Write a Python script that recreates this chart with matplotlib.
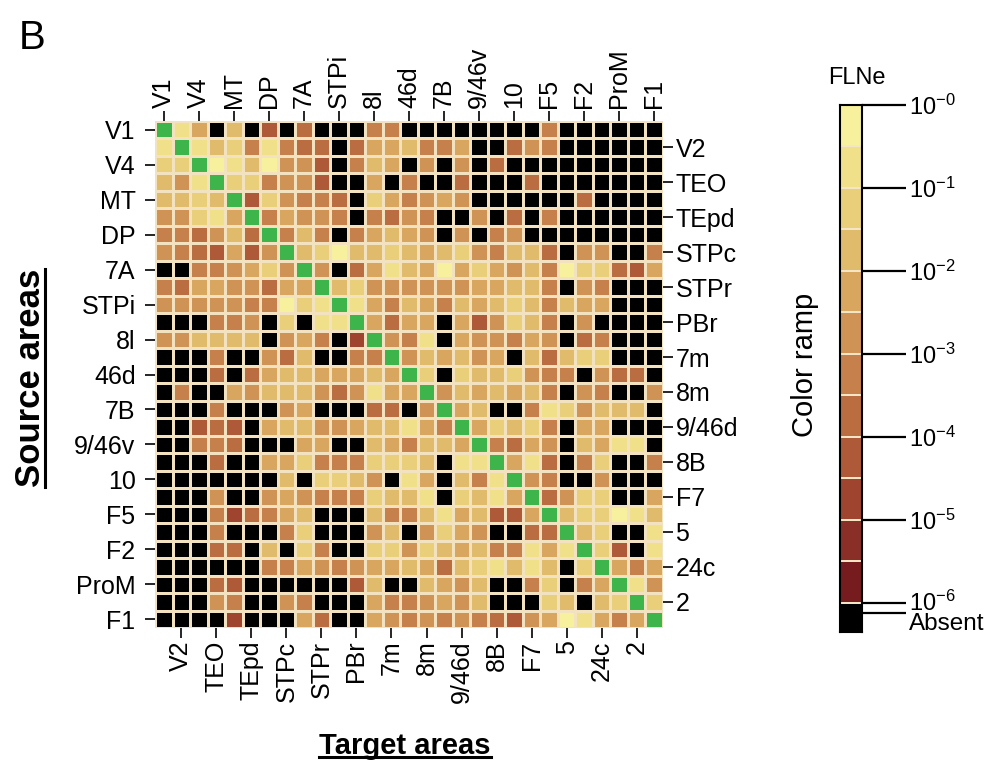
import numpy as np
import matplotlib.pyplot as plt
from matplotlib.colors import ListedColormap, BoundaryNorm
from matplotlib.lines import Line2D

plt.rcParams['font.family'] = ['Liberation Sans', 'DejaVu Sans']
plt.rcParams['mathtext.fontset'] = 'custom'
plt.rcParams['mathtext.rm'] = 'Liberation Sans'
plt.rcParams['mathtext.it'] = 'Liberation Sans:italic'
plt.rcParams['mathtext.bf'] = 'Liberation Sans:bold'

# area order (targets = columns, sources = rows)
areas = ['V1', 'V2', 'V4', 'TEO', 'MT', 'TEpd', 'DP', 'STPc', '7A', 'STPr',
         'STPi', 'PBr', '8l', '7m', '46d', '8m', '7B', '9/46d', '9/46v', '8B',
         '10', 'F7', 'F5', '5', 'F2', '24c', 'ProM', '2', 'F1']

# FLNe bin: 1 = 10^0..10^-0.5 ... 12 = 10^-5.5..10^-6,
# 0 = absent, -1 = injected area (diagonal)
D = -1
flne_bin = [
    [D, 2, 5, 0, 4, 0, 9, 0, 8, 0, 0, 0, 7, 7, 0, 0, 0, 0, 0, 0, 0, 0, 7, 0, 0, 0, 0, 0, 0],
    [2, D, 2, 4, 3, 7, 2, 7, 8, 8, 0, 8, 5, 5, 4, 7, 7, 5, 0, 0, 8, 6, 7, 0, 0, 0, 0, 0, 0],
    [3, 3, D, 1, 2, 4, 1, 6, 6, 9, 0, 7, 4, 5, 0, 6, 0, 6, 0, 8, 0, 0, 0, 0, 0, 0, 0, 0, 0],
    [4, 6, 2, D, 3, 3, 7, 6, 6, 9, 0, 0, 5, 0, 7, 0, 0, 8, 0, 0, 0, 8, 0, 0, 0, 0, 0, 0, 0],
    [4, 4, 3, 4, D, 9, 3, 6, 7, 7, 8, 0, 3, 5, 7, 6, 5, 6, 0, 0, 0, 0, 0, 0, 8, 0, 0, 0, 0],
    [6, 6, 3, 2, 5, D, 7, 5, 6, 6, 7, 0, 7, 8, 6, 7, 0, 0, 6, 0, 8, 0, 7, 0, 0, 0, 0, 0, 0],
    [7, 7, 8, 6, 4, 8, D, 7, 4, 7, 0, 7, 5, 4, 5, 6, 0, 6, 0, 7, 6, 0, 0, 0, 0, 0, 0, 0, 0],
    [6, 7, 8, 9, 5, 9, 6, D, 4, 3, 1, 4, 4, 3, 4, 5, 4, 3, 6, 7, 4, 4, 8, 0, 6, 6, 0, 0, 7],
    [0, 0, 7, 7, 6, 5, 3, 6, D, 6, 0, 8, 5, 2, 4, 5, 1, 5, 3, 5, 6, 4, 7, 1, 3, 3, 8, 9, 5],
    [7, 8, 5, 5, 6, 6, 8, 5, 5, D, 4, 3, 6, 6, 6, 6, 6, 6, 5, 5, 4, 4, 7, 0, 6, 7, 0, 0, 0],
    [6, 6, 6, 6, 6, 7, 7, 1, 3, 2, D, 2, 5, 7, 4, 5, 7, 4, 5, 4, 3, 4, 7, 4, 5, 5, 0, 0, 0],
    [0, 0, 0, 7, 7, 6, 0, 3, 0, 2, 2, D, 5, 8, 5, 5, 0, 5, 9, 6, 3, 4, 7, 0, 6, 0, 0, 0, 0],
    [6, 6, 4, 4, 4, 4, 0, 6, 5, 7, 0, 10, D, 6, 7, 2, 0, 5, 6, 6, 7, 5, 6, 0, 8, 7, 0, 0, 0],
    [0, 0, 0, 7, 0, 0, 6, 8, 4, 0, 0, 7, 7, D, 6, 4, 5, 4, 6, 5, 0, 4, 8, 4, 3, 3, 0, 0, 0],
    [0, 0, 0, 8, 0, 8, 5, 4, 4, 5, 5, 5, 4, 5, D, 3, 0, 3, 4, 4, 3, 6, 7, 7, 0, 6, 8, 8, 0],
    [0, 7, 0, 0, 5, 6, 4, 4, 4, 6, 8, 6, 2, 5, 5, D, 6, 4, 5, 4, 5, 4, 7, 0, 6, 7, 0, 0, 6],
    [0, 0, 0, 7, 0, 0, 0, 6, 5, 0, 0, 0, 8, 8, 0, 6, D, 5, 4, 0, 0, 7, 2, 3, 6, 4, 4, 4, 0],
    [0, 0, 9, 8, 9, 0, 5, 4, 4, 6, 6, 5, 4, 4, 2, 5, 7, D, 5, 3, 4, 3, 7, 0, 5, 5, 0, 0, 0],
    [0, 0, 7, 7, 8, 0, 0, 0, 5, 5, 0, 0, 4, 5, 7, 4, 4, 5, D, 7, 8, 5, 6, 0, 4, 5, 2, 2, 0],
    [0, 0, 0, 8, 0, 0, 5, 5, 3, 7, 7, 7, 3, 3, 3, 4, 0, 2, 2, D, 5, 2, 8, 0, 7, 3, 0, 0, 7],
    [0, 0, 0, 0, 0, 0, 0, 4, 0, 3, 3, 4, 6, 0, 2, 5, 0, 4, 7, 2, D, 6, 7, 0, 0, 6, 0, 0, 0],
    [0, 0, 0, 6, 0, 0, 6, 5, 6, 7, 7, 7, 3, 4, 4, 2, 0, 3, 4, 2, 5, D, 8, 6, 3, 3, 0, 0, 5],
    [0, 0, 0, 7, 10, 8, 7, 5, 4, 0, 0, 0, 4, 7, 7, 4, 2, 5, 4, 9, 9, 5, D, 4, 3, 3, 1, 2, 4],
    [0, 0, 0, 7, 0, 0, 0, 7, 3, 0, 0, 0, 6, 4, 0, 6, 3, 5, 6, 0, 0, 8, 8, D, 4, 3, 0, 0, 2],
    [0, 0, 0, 8, 8, 0, 4, 0, 3, 7, 0, 0, 3, 3, 6, 3, 4, 5, 4, 7, 7, 2, 5, 2, D, 3, 9, 0, 2],
    [0, 0, 0, 0, 0, 0, 7, 7, 5, 6, 7, 6, 5, 5, 4, 5, 8, 4, 3, 2, 4, 2, 4, 0, 3, D, 5, 7, 5],
    [0, 0, 0, 8, 9, 0, 0, 0, 0, 0, 0, 9, 4, 0, 0, 4, 5, 6, 4, 0, 0, 7, 3, 0, 7, 5, D, 2, 6],
    [0, 0, 0, 6, 7, 0, 0, 6, 7, 0, 0, 0, 5, 7, 7, 6, 5, 6, 4, 0, 0, 0, 3, 4, 0, 4, 3, D, 3],
    [0, 0, 0, 0, 10, 0, 0, 0, 5, 8, 0, 0, 5, 6, 7, 6, 7, 6, 7, 8, 9, 6, 5, 1, 2, 5, 7, 5, D],
]

ramp = ['#f7f19e', '#f0e08a', '#e9cf79', '#e0bb6b', '#d8a65f', '#cf9355',
        '#c6804c', '#bb6d42', '#ae5a38', '#9e442f', '#8a2f28', '#761c1f']
cbar_labels = ['$10^{-0}$', '$10^{-1}$', '$10^{-2}$', '$10^{-3}$',
               '$10^{-4}$', '$10^{-5}$', '$10^{-6}$', 'Absent']

M = np.array(flne_bin, dtype=float)
n = len(areas)

cmap = ListedColormap(['black'] + ramp)
cmap.set_under('#3db54a')
norm = BoundaryNorm(np.arange(-0.5, 13.5, 1), cmap.N)

fig = plt.figure(figsize=(9.96, 7.71), dpi=100)
ax = fig.add_axes([155 / 996, 1 - 628 / 771, 508 / 996, 507 / 771])
ax.pcolormesh(np.arange(n + 1), np.arange(n + 1), M, cmap=cmap, norm=norm,
              edgecolors='#f3e2c0', linewidth=0.9)
ax.set_xlim(0, n)
ax.set_ylim(n, 0)
for s in ax.spines.values():
    s.set_visible(False)

even = np.arange(0, n, 2)
odd = np.arange(1, n, 2)
fs = 18
tick_kw = dict(length=7, width=1.2, color='black', labelsize=fs, pad=2)

ax.set_xticks(odd + 0.5)
ax.set_xticklabels([areas[i] for i in odd], rotation=90)
ax.set_yticks(even + 0.5)
ax.set_yticklabels([areas[i] for i in even])
ax.tick_params(**tick_kw)
ax.tick_params(axis='y', pad=7)

top = ax.secondary_xaxis('top')
top.set_xticks(even + 0.5)
top.set_xticklabels([areas[i] for i in even], rotation=90)
top.tick_params(**tick_kw)
top.spines['top'].set_visible(False)

right = ax.secondary_yaxis('right')
right.set_yticks(odd + 0.5)
right.set_yticklabels([areas[i] for i in odd])
right.tick_params(**tick_kw)
right.spines['right'].set_visible(False)

# colour ramp: 12 bins of half a decade, then a shorter "absent" block
cax = fig.add_axes([840 / 996, 1 - 632 / 771, 22 / 996, 527 / 771])
bar = np.array(list(range(1, 13)) + [0], dtype=float).reshape(-1, 1)
cax.pcolormesh([0, 1], list(range(13)) + [12.7], bar, cmap=cmap, norm=norm,
               edgecolors='#f4e6c4', linewidth=1.2)
cax.set_xlim(0, 1)
cax.set_ylim(12.7, 0)
cax.set_xticks([])
cax.yaxis.tick_right()
cax.set_yticks([0, 2, 4, 6, 8, 10, 12, 12.25])
cax.set_yticklabels(cbar_labels)
cax.tick_params(axis='y', length=32, width=1.6, labelsize=17, pad=2)
tl = cax.get_yticklabels()
tl[6].set_va('center')
tl[7].set_va('top')
tl[7].set_fontsize(17.5)
for s in cax.spines.values():
    s.set_linewidth(1.5)

fig.text(857 / 996, 1 - 78 / 771, 'FLNe', ha='center', va='center', fontsize=17)
fig.text(805 / 996, 1 - 365 / 771, 'Color ramp', rotation=90, ha='center',
         va='center', fontsize=21)
fig.text(32 / 996, 1 - 38 / 771, 'B', ha='center', va='center', fontsize=29)

src = fig.text(30 / 996, 1 - 378 / 771, 'Source areas', rotation=90,
               ha='center', va='center', fontsize=25, fontweight='bold')
tgt = fig.text(405 / 996, 1 - 746 / 771, 'Target areas', ha='center',
               va='center', fontsize=21, fontweight='bold')

# underline the two axis titles
fig.canvas.draw()
inv = fig.transFigure.inverted()
bb = inv.transform(tgt.get_window_extent().get_points())
fig.add_artist(Line2D([bb[0, 0], bb[1, 0]], [bb[0, 1] + 0.004] * 2,
                      transform=fig.transFigure, color='black', lw=2.2))
bb = inv.transform(src.get_window_extent().get_points())
fig.add_artist(Line2D([bb[1, 0] - 0.002] * 2, [bb[0, 1], bb[1, 1]],
                      transform=fig.transFigure, color='black', lw=2.2))

fig.savefig('out.png', dpi=100)
